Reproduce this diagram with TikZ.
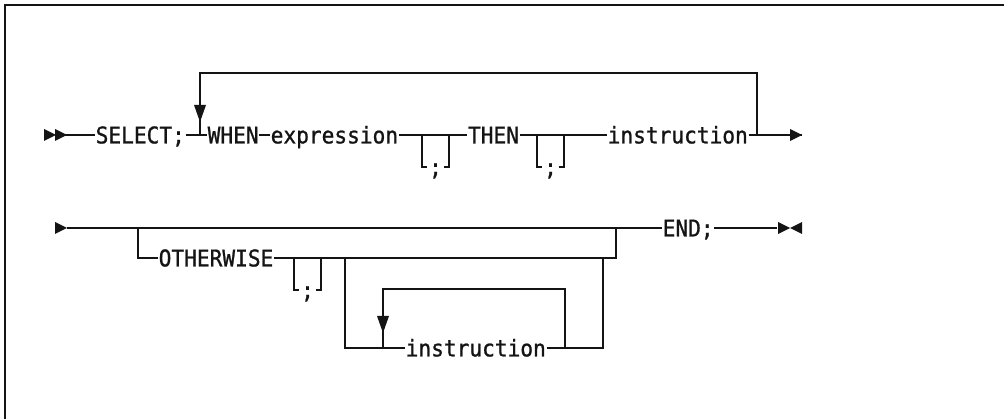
\documentclass[tikz,border=0pt]{standalone}
\usepackage{fontspec}
\newfontfamily\railfont[FakeBold=1,FakeStretch=0.92]{DejaVu Sans Mono}
\definecolor{railink}{HTML}{141414}
\tikzset{
  kw/.style={font={\railfont\fontsize{23}{26}\selectfont}, text=railink, inner xsep=0.5pt, inner ysep=0pt, text height=16.8pt, text depth=0pt},
  semi/.style={kw, inner xsep=1.5pt},
  rail/.style={draw=railink, line width=1.6pt},
  frame/.style={draw=railink, line width=2pt},
  tipright/.pic={\fill[railink] (-12,-6) -- (0,0) -- (-12,6) -- cycle;},
  tipleft/.pic={\fill[railink] (12,-6) -- (0,0) -- (12,6) -- cycle;},
  tipdown/.pic={\fill[railink] (-6,-17) -- (0,0) -- (6,-17) -- cycle;},
}
\begin{document}
\begin{tikzpicture}[x=1pt,y=-1pt]
  \useasboundingbox (0,0) rectangle (1004,419);
  \draw[frame] (5,419) -- (5,5) -- (1004,5);
  % first line: SELECT; WHEN ... THEN ... instruction (repeated)
  \coordinate (rowAin) at (56,135);
  \coordinate (rowAout) at (802,135);
  \node[kw, anchor=west] (kwSelect) at (95,135) {SELECT;};
  \node[kw, anchor=west] (kwWhen) at (207,135) {WHEN};
  \node[kw, anchor=west] (kwExpr) at (270,135) {expression};
  \node[kw] (kwThen) at (493.5,135) {THEN};
  \node[kw, anchor=west] (kwInstr) at (607,135) {instruction};
  \draw[rail] (rowAin) -- (kwSelect.west) (kwSelect.east) -- (kwWhen.west)
    (kwWhen.east) -- (kwExpr.west) (kwExpr.east) -- (kwThen.west)
    (kwThen.east) -- (kwInstr.west) (kwInstr.east) -- (rowAout);
  \pic at (56,135) {tipright};
  \pic at (67,135) {tipright};
  \pic at (rowAout) {tipright};
  \coordinate (loopAl) at (200,135);
  \coordinate (loopAr) at (757,135);
  \draw[rail] (loopAr) -- ++(0,-62) -| (loopAl);
  \pic at (200,122) {tipdown};
  % second line: OTHERWISE branch and END;
  \coordinate (rowBin) at (67,228);
  \coordinate (rowBout) at (777,228);
  \coordinate (optBl) at (138,228);
  \coordinate (optBr) at (616,228);
  \node[kw, anchor=west] (kwOther) at (158,258) {OTHERWISE};
  \node[kw, anchor=west] (kwEnd) at (662,228) {END;};
  \draw[rail] (rowBin) -- (kwEnd.west) (kwEnd.east) -- (rowBout);
  \draw[rail] (optBl) |- (kwOther.west);
  \draw[rail] (kwOther.east) -| (optBr);
  \pic at (rowBin) {tipright};
  \pic at (790,228) {tipright};
  \pic at (790,228) {tipleft};
  \coordinate (optCl) at (345,258);
  \coordinate (optCr) at (603,258);
  \node[kw, anchor=west] (kwInstrB) at (405,348) {instruction};
  \draw[rail] (optCl) |- (kwInstrB.west);
  \draw[rail] (kwInstrB.east) -| (optCr);
  \coordinate (loopBl) at (383,348);
  \coordinate (loopBr) at (565,348);
  \draw[rail] (loopBr) -- ++(0,-59) -| (loopBl);
  \pic at (383,333) {tipdown};
  % optional separators
  \foreach \nm/\xl/\xr/\yt/\yb in {semiA/422/449/135/167, semiB/537/564/135/167, semiC/294/321/258/290} {
    \coordinate (\nm l) at (\xl,\yt);
    \coordinate (\nm r) at (\xr,\yt);
    \node[semi] (\nm) at ({(\xl+\xr)/2},\yb) {;};
    \draw[rail] (\nm l) |- (\nm.west) (\nm r) |- (\nm.east);
  }
\end{tikzpicture}
\end{document}
